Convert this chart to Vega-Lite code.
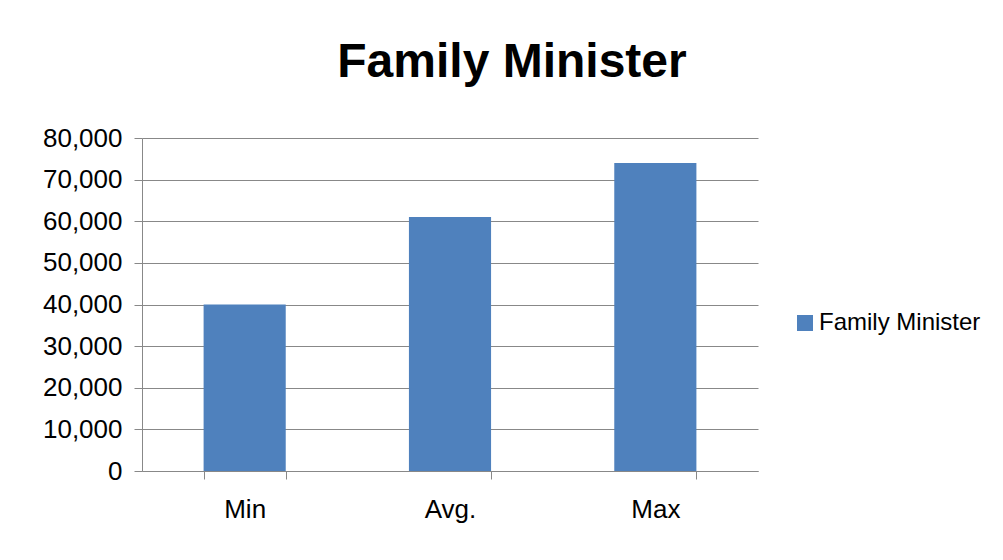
{
  "$schema": "https://vega.github.io/schema/vega-lite/v6.json",
  "width": 616,
  "height": 333,
  "autosize": {"type": "none"},
  "padding": {"left": 142, "top": 138, "right": 245, "bottom": 89},
  "background": "white",
  "title": {
    "text": "Family Minister",
    "font": "Liberation Sans",
    "fontSize": 48,
    "fontWeight": "bold",
    "color": "#000000",
    "anchor": "middle",
    "baseline": "alphabetic",
    "offset": 59,
    "dx": 62,
    "dy": 59
  },
  "data": {
    "values": [
      {"category": "Min", "value": 40000, "series": "Family Minister"},
      {"category": "Avg.", "value": 61000, "series": "Family Minister"},
      {"category": "Max", "value": 74000, "series": "Family Minister"}
    ]
  },
  "mark": {"type": "bar"},
  "encoding": {
    "x": {
      "field": "category",
      "type": "nominal",
      "sort": ["Min", "Avg.", "Max"],
      "scale": {"paddingInner": 0.6, "paddingOuter": 0.3},
      "axis": {
        "title": null,
        "labelAngle": 0,
        "tickBand": "extent",
        "tickSize": 8,
        "labelPadding": 17,
        "labelFontSize": 26,
        "labelFont": "Liberation Sans",
        "labelColor": "#000000",
        "domainColor": "#888888",
        "tickColor": "#888888",
        "grid": false
      }
    },
    "y": {
      "field": "value",
      "type": "quantitative",
      "scale": {"domain": [0, 80000], "nice": false},
      "axis": {
        "title": null,
        "values": [0, 10000, 20000, 30000, 40000, 50000, 60000, 70000, 80000],
        "format": ",.0f",
        "tickSize": 8,
        "labelPadding": 12,
        "labelFontSize": 26,
        "labelFont": "Liberation Sans",
        "labelColor": "#000000",
        "domainColor": "#888888",
        "tickColor": "#888888",
        "grid": true,
        "gridColor": "#888888"
      }
    },
    "color": {
      "field": "series",
      "type": "nominal",
      "scale": {"range": ["#4F81BD"]},
      "legend": {
        "title": null,
        "orient": "none",
        "legendX": 651,
        "legendY": 173,
        "symbolType": "square",
        "symbolSize": 256,
        "symbolStrokeWidth": 0,
        "labelFontSize": 24,
        "labelFont": "Liberation Sans",
        "labelColor": "#000000",
        "labelOffset": 2,
        "labelLimit": 400,
        "padding": 0
      }
    }
  },
  "config": {
    "view": {"stroke": null}
  }
}
